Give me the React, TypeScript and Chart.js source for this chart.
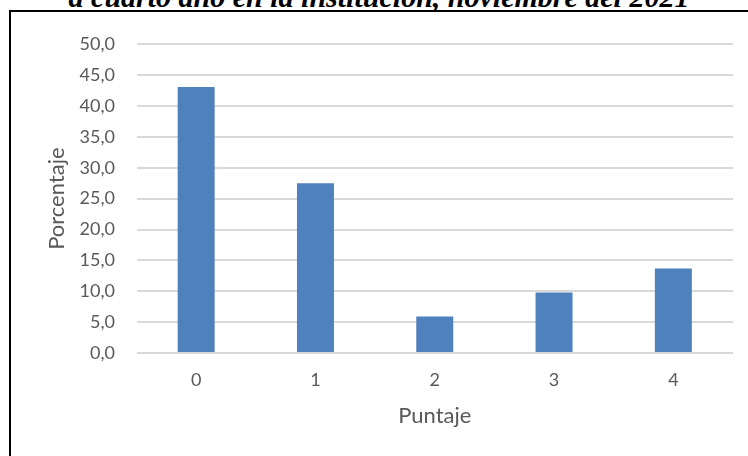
import React, { useEffect, useRef } from "react";
import { Chart, registerables } from "chart.js";

Chart.register(...registerables);

const titleText = "a cuarto año en la institución, noviembre del 2021";
const categories = ["0", "1", "2", "3", "4"];
const porcentajes = [43.1, 27.5, 5.9, 9.8, 13.7];
const yMin = 0;
const yMax = 50;
const yStep = 5;
const xAxisTitle = "Puntaje";
const yAxisTitle = "Porcentaje";

const TEXT = "#595959";
const FONT = "Lato";

export default function App() {
  const ref = useRef<HTMLCanvasElement | null>(null);

  useEffect(() => {
    if (!ref.current) return;
    const chart = new Chart(ref.current, {
      type: "bar",
      data: {
        labels: categories,
        datasets: [
          {
            label: yAxisTitle,
            data: porcentajes,
            backgroundColor: "#4F81BD",
            borderWidth: 0,
            barPercentage: 0.31,
            categoryPercentage: 1,
          },
        ],
      },
      options: {
        responsive: false,
        animation: false,
        layout: { padding: { left: 0, top: 24, right: 15, bottom: 0 } },
        plugins: {
          legend: { display: false },
          tooltip: { enabled: false },
          title: { display: false },
        },
        scales: {
          x: {
            grid: { display: false, drawTicks: false },
            border: { display: false },
            ticks: {
              color: TEXT,
              font: { family: FONT, size: 18 },
              padding: 16,
            },
            title: {
              display: true,
              text: xAxisTitle,
              color: TEXT,
              font: { family: FONT, size: 22 },
              padding: { top: 0, bottom: 27 },
            },
            afterFit: (s: any) => {
              s.height = 103;
            },
          },
          y: {
            min: yMin,
            max: yMax,
            grid: { color: "#d9d9d9", lineWidth: 2, drawTicks: false },
            border: { display: false },
            ticks: {
              stepSize: yStep,
              color: TEXT,
              font: { family: FONT, size: 18 },
              padding: 21.5,
              callback: (v: any) => Number(v).toFixed(1).replace(".", ","),
            },
            title: {
              display: true,
              text: yAxisTitle,
              color: TEXT,
              font: { family: FONT, size: 22 },
              padding: { top: 33, bottom: 0 },
            },
            afterFit: (s: any) => {
              s.width = 125.5;
            },
          },
        },
      },
    });
    return () => chart.destroy();
  }, []);

  return (
    <div
      style={{
        position: "fixed",
        left: 0,
        top: 0,
        width: 748,
        height: 456,
        overflow: "hidden",
        background: "#fff",
      }}
    >
      <div
        style={{
          position: "absolute",
          left: 0,
          width: 758,
          top: -18,
          textAlign: "center",
          fontFamily: "'Liberation Serif', 'Times New Roman', serif",
          fontStyle: "italic",
          fontWeight: "bold",
          fontSize: 30,
          lineHeight: "30px",
          whiteSpace: "nowrap",
          color: "#000",
        }}
      >
        {titleText}
      </div>
      <div
        style={{
          position: "absolute",
          left: 9,
          top: 10,
          width: 800,
          height: 500,
          border: "2px solid #000",
          boxSizing: "border-box",
        }}
      />
      <canvas
        ref={ref}
        width={737}
        height={444}
        style={{ position: "absolute", left: 11, top: 12, width: 737, height: 444 }}
      />
    </div>
  );
}
